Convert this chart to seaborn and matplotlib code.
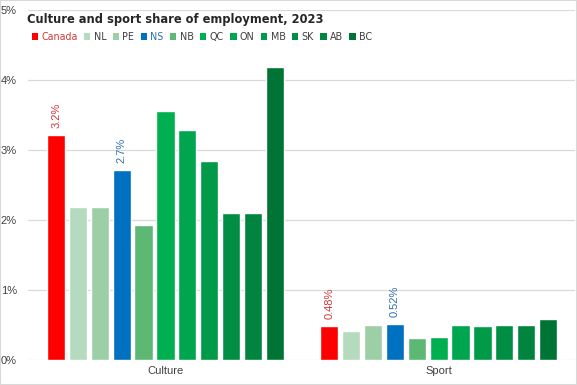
import pandas as pd
import matplotlib.pyplot as plt
import seaborn as sns
from matplotlib.patches import Patch, Rectangle

# Data
sectors = ["Culture", "Sport"]
regions = ["Canada", "NL", "PE", "NS", "NB", "QC", "ON", "MB", "SK", "AB", "BC"]
culture_share = [3.21, 2.18, 2.19, 2.72, 1.93, 3.56, 3.28, 2.85, 2.10, 2.10, 4.19]
sport_share = [0.48, 0.42, 0.50, 0.52, 0.32, 0.33, 0.50, 0.49, 0.50, 0.50, 0.58]
region_colors = ["#FF0000", "#B4DBBD", "#9DCFA6", "#0070C0", "#5DB873",
                 "#00B050", "#00A64F", "#009A48", "#008E44", "#00843F", "#007434"]
label_text = {("Culture", "Canada"): "3.2%", ("Culture", "NS"): "2.7%",
              ("Sport", "Canada"): "0.48%", ("Sport", "NS"): "0.52%"}
label_colors = {"Canada": "#D0383A", "NS": "#2E6FAD"}

df = pd.DataFrame({
    "sector": [s for s in sectors for _ in regions],
    "region": regions * 2,
    "share": culture_share + sport_share,
})

sns.set_style("white")
plt.rcParams['font.family'] = ['Liberation Sans', 'DejaVu Sans']

fig = plt.figure(figsize=(5.77, 3.85), dpi=100)
ax = fig.add_axes([28 / 577, 25 / 385, 547 / 577, 350 / 385])

sns.barplot(data=df, x="sector", y="share", hue="region", hue_order=regions,
            palette=region_colors, width=0.88, gap=0.165, saturation=1,
            ax=ax, legend=False)

ax.set_ylim(0, 5)
ax.set_xlim(-0.503, 1.499)
ax.set_yticks([0, 1, 2, 3, 4, 5])
ax.set_yticklabels([f"{v}%" for v in range(6)], color="#404040", fontsize=8)
ax.tick_params(axis="y", pad=8, length=0)
ax.tick_params(axis="x", length=0, labelsize=8, labelcolor="#404040", pad=4)
ax.set_xlabel("")
ax.set_ylabel("")
ax.yaxis.grid(True, color="#D9D9D9", linewidth=0.9)
ax.set_axisbelow(True)
for s in ax.spines.values():
    s.set_visible(False)

# data labels on Canada and NS bars
for container, region in zip(ax.containers, regions):
    for bar, sector in zip(container, sectors):
        txt = label_text.get((sector, region))
        if txt:
            ax.text(bar.get_x() + bar.get_width() / 2, bar.get_height() + 0.1, txt,
                    rotation=90, ha="center", va="bottom", fontsize=8,
                    color=label_colors[region])

fig.text(27 / 577, 1 - 20 / 385, "Culture and sport share of employment, 2023",
         fontsize=9.2, fontweight="bold", ha="left", va="center",
         family="DejaVu Sans", fontstretch="condensed")

handles = [Patch(facecolor=c, edgecolor="none") for c in region_colors]
leg = fig.legend(handles, regions, loc="center left", bbox_to_anchor=(22 / 577, 1 - 37 / 385),
                 ncol=len(regions), frameon=False, handlelength=0.6,
                 handleheight=0.6, handletextpad=0.3, columnspacing=0.6,
                 prop={"family": "DejaVu Sans", "stretch": "condensed", "size": 7.7})
for t, r in zip(leg.get_texts(), regions):
    t.set_color(label_colors.get(r, "#404040"))

fig.patches.append(Rectangle((0, 0), 1, 1, transform=fig.transFigure, fill=False,
                             edgecolor="#D9D9D9", linewidth=1.5))

fig.savefig("out.png", dpi=100)
